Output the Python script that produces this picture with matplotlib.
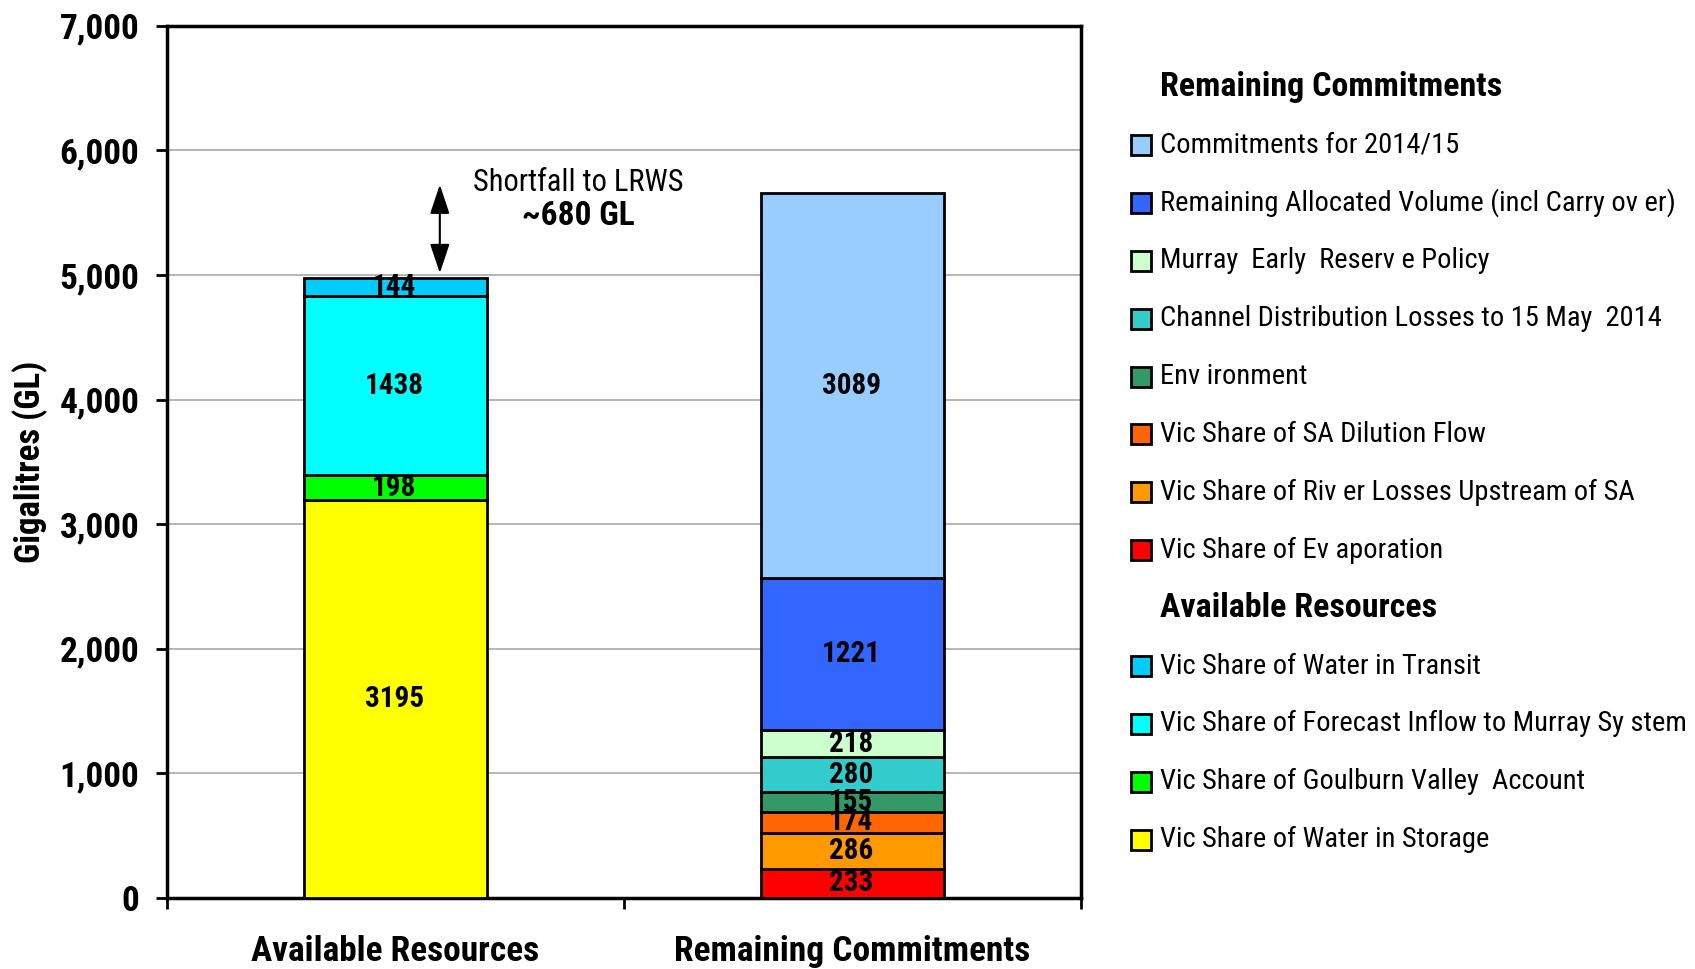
import matplotlib
matplotlib.use("Agg")
import matplotlib.pyplot as plt
from matplotlib.patches import Rectangle

plt.rcParams['font.family'] = ['Roboto Condensed', 'Liberation Sans']

# categories on x axis
categories = ['Available Resources', 'Remaining Commitments']

# Available Resources stack (bottom -> top)
avail_labels = ['Vic Share of Water in Storage', 'Vic Share of Goulburn Valley  Account',
                'Vic Share of Forecast Inflow to Murray Sy stem', 'Vic Share of Water in Transit']
avail_values = [3195, 198, 1438, 144]
avail_colors = ['#FFFF00', '#00FF00', '#00FFFF', '#00CCFF']

# Remaining Commitments stack (bottom -> top)
commit_labels = ['Vic Share of Ev aporation', 'Vic Share of Riv er Losses Upstream of SA',
                 'Vic Share of SA Dilution Flow', 'Env ironment',
                 'Channel Distribution Losses to 15 May  2014', 'Murray  Early  Reserv e Policy',
                 'Remaining Allocated Volume (incl Carry ov er)', 'Commitments for 2014/15']
commit_values = [233, 286, 174, 155, 280, 218, 1221, 3089]
commit_colors = ['#FF0000', '#FF9900', '#FF6600', '#339966',
                 '#33CCCC', '#CCFFCC', '#3366FF', '#99CCFF']

shortfall_text = 'Shortfall to LRWS'
shortfall_value = '~680 GL'


def stack(ax, x, values, colors):
    # draw one stacked bar with centred value labels
    bottom = 0
    for v, c in zip(values, colors):
        ax.bar(x, v, bottom=bottom, width=0.4, color=c, edgecolor='black', linewidth=2, zorder=3)
        ax.text(x - 0.003, bottom + v / 2, str(v), ha='center', va='center',
                fontsize=21, fontweight='bold', zorder=4)
        bottom += v
    return bottom


fig = plt.figure(figsize=(16.95, 9.69), dpi=100)
ax = fig.add_axes([0.0985, 0.0733, 0.5393, 0.9])

top_avail = stack(ax, 0, avail_values, avail_colors)
top_commit = stack(ax, 1, commit_values, commit_colors)

ax.set_xlim(-0.5, 1.5)
ax.set_ylim(0, 7000)
ax.set_yticks(range(0, 7001, 1000))
ax.set_yticklabels([f'{v:,}' for v in range(0, 7001, 1000)], fontsize=25.5, fontweight='bold')
ax.set_xticks([-0.5, 0.5, 1.5])
ax.set_xticklabels([])
for i, name in enumerate(categories):
    ax.text(i, -0.042, name, transform=ax.get_xaxis_transform(), ha='center', va='top',
            fontsize=25.5, fontweight='bold', clip_on=False)
ax.tick_params(axis='y', length=8, width=2, pad=12)
ax.tick_params(axis='x', length=8, width=2)
ax.yaxis.grid(True, color='#B0B0B0', linewidth=1.3, zorder=0)
ax.set_axisbelow(True)
for s in ax.spines.values():
    s.set_linewidth(2.5)
ax.set_ylabel('Gigalitres (GL)', fontsize=25, fontweight='bold', labelpad=8)

# shortfall arrow and text
ax.annotate('', xy=(0.097, top_avail + 40), xytext=(0.097, top_commit + 70),
            arrowprops=dict(arrowstyle='<|-|>,head_width=0.3,head_length=0.9',
                            color='black', lw=1.5, mutation_scale=20,
                            shrinkA=0, shrinkB=0))
ax.text(0.40, 5745, shortfall_text, ha='center', va='center', fontsize=22)
ax.text(0.40, 5475, shortfall_value, ha='center', va='center', fontsize=24, fontweight='bold')

# legend drawn by hand in pixel coords (figure is 1695 x 969)
W, H = 1695.0, 969.0
rows = [('Remaining Commitments', None)]
rows += list(zip(commit_labels[::-1], commit_colors[::-1]))
rows += [('Available Resources', None)]
rows += list(zip(avail_labels[::-1], avail_colors[::-1]))
for i, (lab, col) in enumerate(rows):
    yc = 87 + 57.9 * i
    if col is None:
        fig.text(1160 / W, 1 - yc / H, lab, ha='left', va='center', fontsize=24.5, fontweight='bold')
    else:
        fig.patches.append(Rectangle((1131 / W, 1 - (yc + 10) / H), 20 / W, 20 / H,
                                     transform=fig.transFigure, facecolor=col,
                                     edgecolor='black', linewidth=2))
        fig.text(1160 / W, 1 - yc / H, lab, ha='left', va='center', fontsize=20.5)

fig.savefig('out.png', dpi=100)
